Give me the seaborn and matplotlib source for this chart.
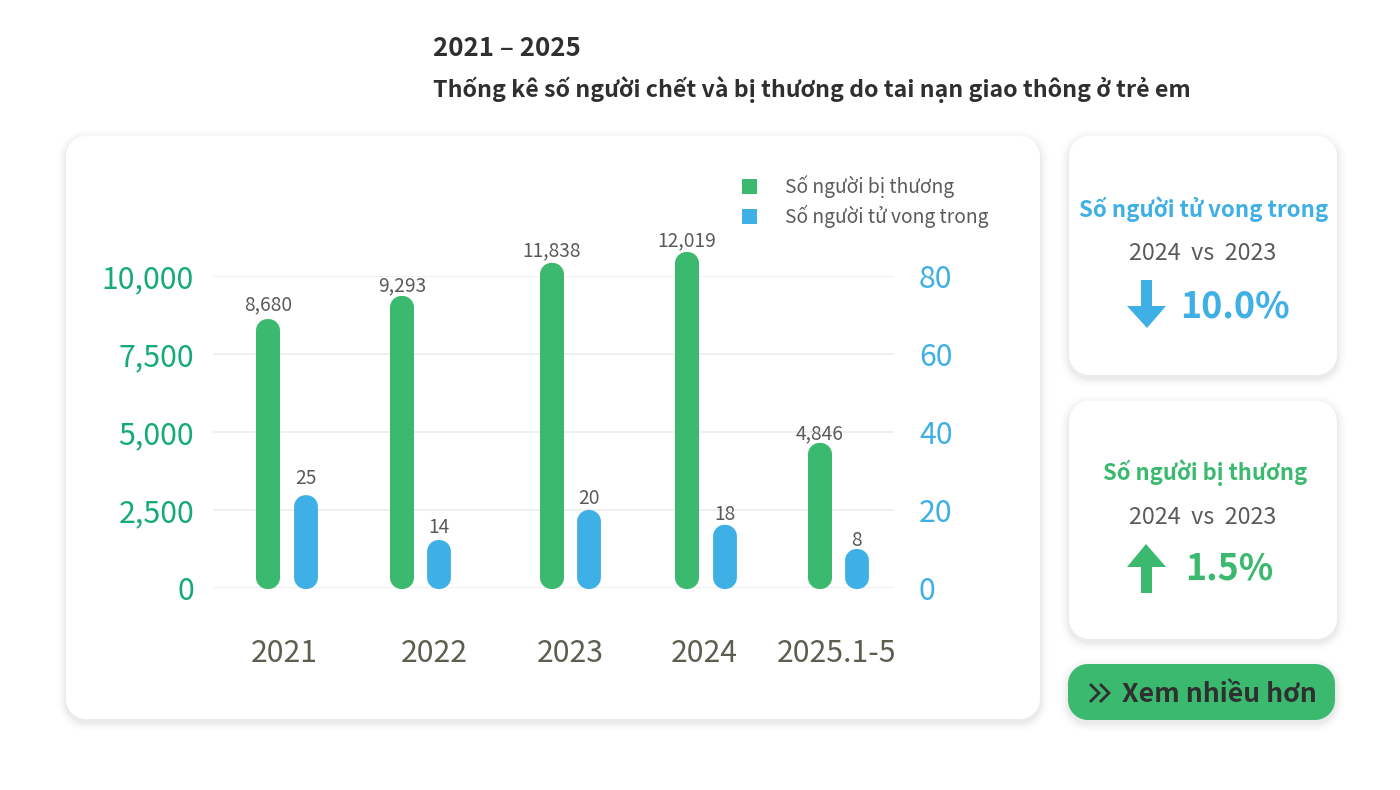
import numpy as np
import pandas as pd
import matplotlib
matplotlib.use("Agg")
import matplotlib.pyplot as plt
from matplotlib.patches import Polygon, Patch
import seaborn as sns

sns.set_theme(style="white")
plt.rcParams["font.family"] = ["Noto Sans CJK SC", "Noto Sans", "DejaVu Sans"]

# ── Data ─────────────────────────────────────────────────────────────────────
years = ["2021", "2022", "2023", "2024", "2025.1-5"]
injured_labels = ["8,680", "9,293", "11,838", "12,019", "4,846"]
death_labels = ["25", "14", "20", "18", "8"]
# bar heights as drawn in the picture (they do not follow the printed labels exactly)
injured_drawn = [8620, 9360, 10420, 10770, 4650]
deaths_drawn = [23.8, 12.3, 20.0, 16.2, 10.0]
left_ticks = [0, 2500, 5000, 7500, 10000]
right_ticks = [0, 20, 40, 60, 80]

title_years = "2021 – 2025"
title_main = "Thống kê số người chết và bị thương do tai nạn giao thông ở trẻ em"
legend_labels = ["Số người bị thương", "Số người tử vong trong"]
compare_label = "2024  vs  2023"
death_change = "10.0%"
injured_change = "1.5%"
button_label = "Xem nhiều hơn"

GREEN = "#3bba6f"
BLUE = "#3eb0e6"
TICK_GREEN = "#14ab74"
GREY = "#5a5a5a"
DARK = "#2f2f2f"

# layout in picture pixels
green_x = [268, 402, 552, 687, 820]
blue_x = [306, 439, 589, 725, 857]
label_x = [284.5, 434, 570, 704, 836.5]
green_gap = [14, 10, 12, 11, 9]
blue_gap = [17, 13, 11, 10, 9]
BAR_W = 24
PLOT_L, PLOT_R, PLOT_TOP, PLOT_BOT = 213, 894, 276, 588
PX = 0.72  # px -> pt at dpi 100

fig = plt.figure(figsize=(14, 7.9), dpi=100, facecolor="white")

# ── Background layer, one unit = one pixel ───────────────────────────────────
bg = fig.add_axes([0, 0, 1, 1], zorder=0)
bg.set_xlim(0, 1400)
bg.set_ylim(790, 0)
bg.axis("off")


def rounded(x0, y0, x1, y1, r, **kw):
    # circular corners, FancyBboxPatch corners come out too square
    pts = []
    for cx, cy, start in [(x1 - r, y0 + r, -90), (x1 - r, y1 - r, 0), (x0 + r, y1 - r, 90), (x0 + r, y0 + r, 180)]:
        t = np.radians(np.linspace(start, start + 90, 24))
        pts.extend(zip(cx + r * np.cos(t), cy + r * np.sin(t)))
    return Polygon(pts, closed=True, ec="none", **kw)


def card(x0, y0, x1, y1, r, color="white", shadow=True):
    if shadow:
        for grow, alpha in [(9, 0.008), (7, 0.01), (5, 0.014), (3, 0.018), (1.5, 0.025)]:
            bg.add_patch(rounded(x0 - grow, y0 - grow + 3, x1 + grow, y1 + grow + 3, r + grow, fc="black", alpha=alpha))
    bg.add_patch(rounded(x0, y0, x1, y1, r, fc=color))


card(66, 136, 1040, 719, 20)
card(1069, 136, 1337, 375, 20)
card(1069, 401, 1337, 639, 20)
card(1068, 664, 1335, 720, 20, color=GREEN)

bg.text(433, 49, title_years, fontsize=18.6, fontweight="bold", color=DARK, va="center")
bg.text(433, 90, title_main, fontsize=16.7, fontweight="bold", color=DARK, va="center")

# right hand cards
bg.text(1204, 209, legend_labels[1], fontsize=16, fontweight="bold", color=BLUE, ha="center", va="center")
bg.text(1203, 253, compare_label, fontsize=16.8, color=GREY, ha="center", va="center")
bg.text(1234.5, 307, death_change, fontsize=25.8, fontweight="bold", color=BLUE, ha="center", va="center")
bg.add_patch(Polygon([(1141, 280), (1152, 280), (1152, 306), (1166, 306), (1147, 328), (1127, 306), (1141, 306)],
                     fc=BLUE, ec="none"))

bg.text(1205, 473, legend_labels[0], fontsize=15.8, fontweight="bold", color=GREEN, ha="center", va="center")
bg.text(1203, 518, compare_label, fontsize=16.8, color=GREY, ha="center", va="center")
bg.text(1229.5, 569, injured_change, fontsize=25.8, fontweight="bold", color=GREEN, ha="center", va="center")
bg.add_patch(Polygon([(1146, 544), (1166, 567), (1152, 567), (1152, 593), (1141, 593), (1141, 567), (1127, 567)],
                     fc=GREEN, ec="none"))

# button
bg.text(1219, 694, button_label, fontsize=19.1, fontweight="bold", color=DARK, ha="center", va="center")
for dx in (0, 10):
    bg.plot([1090 + dx, 1099 + dx, 1090 + dx], [684, 693, 702], color=DARK, lw=2.0,
            solid_joinstyle="miter", solid_capstyle="butt")

# ── Chart ────────────────────────────────────────────────────────────────────
ax = fig.add_axes([PLOT_L / 1400, 1 - PLOT_BOT / 790, (PLOT_R - PLOT_L) / 1400, (PLOT_BOT - PLOT_TOP) / 790], zorder=1)
ax.patch.set_alpha(0)
ax2 = ax.twinx()

df = pd.DataFrame({"green_x": green_x, "blue_x": blue_x, "injured": injured_drawn, "deaths": deaths_drawn})
width = BAR_W / 133
sns.barplot(data=df, x="green_x", y="injured", native_scale=True, width=width, color=GREEN, saturation=1, ax=ax)
sns.barplot(data=df, x="blue_x", y="deaths", native_scale=True, width=width, color=BLUE, saturation=1, ax=ax2)

for a, ticks in ((ax, left_ticks), (ax2, right_ticks)):
    a.set_xlim(PLOT_L, PLOT_R)
    a.set_ylim(ticks[0], ticks[-1])
    a.set_yticks(ticks)
    a.set_xlabel("")
    a.set_ylabel("")
    sns.despine(ax=a, left=True, right=True, top=True, bottom=True)

ax.set_yticklabels([f"{t:,}" for t in left_ticks])
ax.tick_params(axis="y", length=0, pad=19 * PX, labelsize=21.8, labelcolor=TICK_GREEN)
ax2.tick_params(axis="y", length=0, pad=25 * PX, labelsize=21.8, labelcolor=BLUE)
ax.set_xticks(label_x)
ax.set_xticklabels(years)
ax.tick_params(axis="x", length=0, pad=50 * PX, labelsize=21.7, labelcolor="#5e5e50")
ax2.tick_params(axis="x", length=0, labelbottom=False)
ax.grid(axis="y", color="#ebebeb", lw=1.1)
ax.grid(axis="x", visible=False)
ax.set_axisbelow(True)
ax2.grid(False)


def round_bars(a, color):
    # swap the square seaborn bars for pill shaped ones of the same size
    for p in list(a.patches):
        bb = p.get_window_extent().transformed(bg.transData.inverted())
        y0, y1 = min(bb.y0, bb.y1), max(bb.y0, bb.y1) + 1
        a.add_patch(rounded(bb.x0, y0, bb.x1, y1, BAR_W / 2 - 0.5, fc=color,
                            transform=bg.transData, clip_on=False))
        p.remove()


round_bars(ax, GREEN)
round_bars(ax2, BLUE)

for x, h, txt, gap in zip(green_x, injured_drawn, injured_labels, green_gap):
    ax.annotate(txt, (x, h), xytext=(0, gap * PX), textcoords="offset points",
                ha="center", va="center", fontsize=13.8, color=GREY, annotation_clip=False)
for x, h, txt, gap in zip(blue_x, deaths_drawn, death_labels, blue_gap):
    ax2.annotate(txt, (x - 0.5, h), xytext=(0, gap * PX), textcoords="offset points",
                 ha="center", va="center", fontsize=13.8, color=GREY, annotation_clip=False)

handles = [Patch(fc=GREEN, ec="none", label=legend_labels[0]), Patch(fc=BLUE, ec="none", label=legend_labels[1])]
ax2.legend(handles=handles, loc="upper left", bbox_to_anchor=(742, 175), bbox_transform=bg.transData,
           frameon=False, fontsize=13.8, labelcolor=GREY, handlelength=0.78, handleheight=0.78,
           handletextpad=1.44, labelspacing=0.38, borderpad=0, borderaxespad=0)

plt.savefig("out.png", dpi=100)
plt.close()
